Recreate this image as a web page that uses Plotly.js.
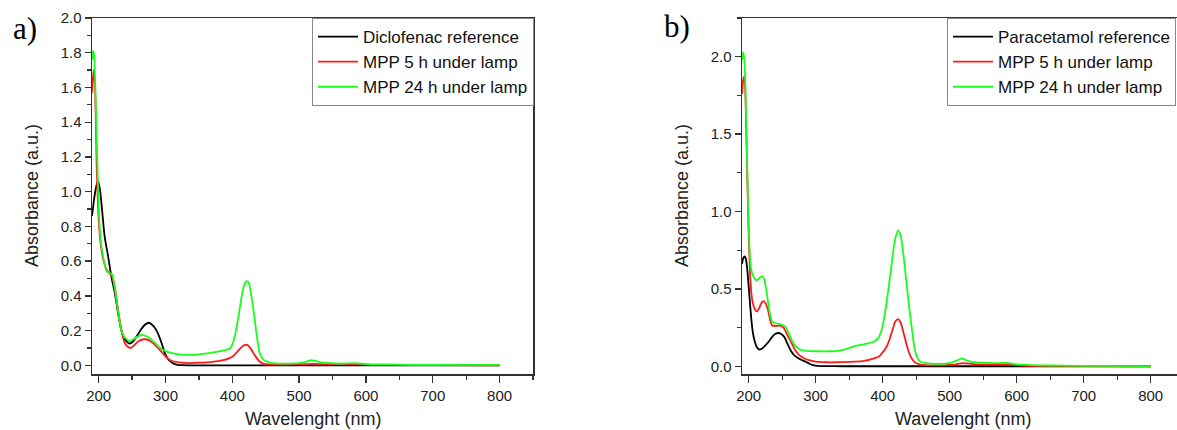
<!DOCTYPE html>
<html>
<head>
<meta charset="utf-8">
<script src="https://cdn.plot.ly/plotly-3.0.1.min.js"></script>
<style>html,body{margin:0;padding:0;background:#fff;}#chart{width:1177px;height:430px;}</style>
</head>
<body>
<div id="chart"></div>
<script>
// ---- Panel a) Diclofenac ----
const seriesNames_a = ["Diclofenac reference", "MPP 5 h under lamp", "MPP 24 h under lamp"];
const wl_a_ref = [190,194,197,199,202,204,209,214,219,224,229,234,239,246,252,259,267,275,282,288,294,299,304,308,313,318,325,340,400,500,600,700,800];
const abs_a_ref = [0.86,0.98,1.04,1.06,1.01,0.94,0.74,0.63,0.51,0.42,0.30,0.20,0.15,0.125,0.14,0.18,0.225,0.245,0.225,0.19,0.13,0.07,0.035,0.02,0.008,0.003,0.001,0,0,0,0,0,0];
const wl_a_5h = [190,192,193,195,197,199,201,204,208,212,216,220,224,229,234,239,244,248,253,260,268,275,282,290,297,303,310,320,335,350,370,385,395,402,408,413,418,422,426,430,435,440,446,455,470,490,510,520,535,550,570,590,610,650,700,800];
const abs_a_5h = [1.57,1.68,1.70,1.55,1.15,0.92,0.78,0.67,0.59,0.55,0.53,0.51,0.45,0.32,0.2,0.13,0.105,0.10,0.115,0.14,0.15,0.145,0.125,0.095,0.065,0.04,0.025,0.017,0.013,0.015,0.02,0.028,0.04,0.055,0.08,0.102,0.116,0.118,0.105,0.08,0.05,0.025,0.01,0.005,0.004,0.005,0.007,0.008,0.007,0.006,0.005,0.006,0.003,0.002,0.001,0];
const wl_a_24h = [190,191.5,193,195,196.5,199,201.5,204,206.5,211,214,217,220,224,229,234,239,246,252,258,264,270,277,284,292,300,310,320,335,350,365,380,390,396,401,405,410,415,419,422,425,429,433,437,441,446,451,460,480,500,510,518,525,535,550,565,585,600,630,670,720,800];
const abs_a_24h = [1.76,1.81,1.79,1.6,1.38,1.03,0.80,0.69,0.63,0.55,0.535,0.53,0.525,0.45,0.31,0.2,0.16,0.14,0.15,0.165,0.175,0.17,0.155,0.13,0.1,0.082,0.07,0.063,0.06,0.063,0.07,0.08,0.088,0.095,0.13,0.19,0.3,0.42,0.475,0.484,0.47,0.39,0.28,0.16,0.07,0.035,0.022,0.013,0.01,0.012,0.02,0.03,0.025,0.015,0.012,0.01,0.012,0.007,0.005,0.003,0.002,0.002];

// ---- Panel b) Paracetamol ----
const seriesNames_b = ["Paracetamol reference", "MPP 5 h under lamp", "MPP 24 h under lamp"];
const wl_b_ref = [190,192,194,196,198,201.5,204,206.5,209,212,216,220,225,230,236,240,244,248,253,258,263,268,273,278,284,290,296,303,315,340,400,500,600,700,800];
const abs_b_ref = [0.66,0.70,0.71,0.69,0.62,0.43,0.3,0.21,0.16,0.125,0.108,0.115,0.135,0.16,0.195,0.21,0.215,0.21,0.19,0.145,0.1,0.07,0.055,0.042,0.032,0.018,0.008,0.003,0.001,0,0,0,0,0,0];
const wl_b_5h = [190,191.5,193,194.5,196,198,200,202,204,206,209,212,215,218,220,223,226,229,232,235,240,246,252,258,264,270,276,283,290,300,315,330,350,370,386,395,400,405,410,415,419,423,427,432,437,442,447,455,470,490,505,520,535,550,570,590,610,650,700,800];
const abs_b_5h = [1.76,1.84,1.87,1.82,1.6,1.2,0.85,0.6,0.47,0.41,0.37,0.355,0.37,0.40,0.415,0.42,0.4,0.36,0.3,0.265,0.26,0.262,0.25,0.2,0.15,0.1,0.07,0.05,0.04,0.03,0.026,0.026,0.028,0.033,0.05,0.065,0.09,0.12,0.17,0.24,0.29,0.305,0.28,0.2,0.12,0.06,0.03,0.012,0.006,0.006,0.01,0.02,0.014,0.012,0.012,0.011,0.005,0.002,0.001,0];
const wl_b_24h = [190,191.5,193,194.5,196,198,200,202,204,207,211,214,217,220,223,226,229,232,235,240,249,255,259,264,269,274,279,286,293,305,320,333,345,358,372,386,393,398,403,408,413,418,423,427,431,435,439,443,447,451,456,465,480,500,510,518,527,540,555,570,585,600,630,670,720,800];
const abs_b_24h = [1.98,2.03,2.0,1.9,1.65,1.25,0.9,0.7,0.62,0.58,0.556,0.56,0.575,0.58,0.565,0.5,0.41,0.33,0.29,0.278,0.27,0.255,0.22,0.17,0.135,0.115,0.105,0.1,0.098,0.097,0.097,0.1,0.11,0.13,0.142,0.157,0.18,0.23,0.33,0.48,0.65,0.81,0.88,0.84,0.72,0.56,0.4,0.26,0.13,0.06,0.03,0.02,0.015,0.02,0.035,0.05,0.035,0.025,0.023,0.02,0.022,0.012,0.006,0.004,0.002,0.001];

const colors = ["#000000", "#ff1a1a", "#1aff1a"];
const W = 1177, H = 430;
const px = v => v / W;
const py = v => 1 - v / H;

function tr(x, y, name, color, xa, ya, lg) {
  return {x: x, y: y, name: name, type: "scatter", mode: "lines",
    line: {color: color, width: 1.8, shape: "spline", smoothing: 0.6},
    xaxis: xa, yaxis: ya, legend: lg, hoverinfo: "x+y"};
}

const data = [
  tr(wl_a_ref, abs_a_ref, seriesNames_a[0], colors[0], "x", "y", "legend"),
  tr(wl_a_5h, abs_a_5h, seriesNames_a[1], colors[1], "x", "y", "legend"),
  tr(wl_a_24h, abs_a_24h, seriesNames_a[2], colors[2], "x", "y", "legend"),
  tr(wl_b_ref, abs_b_ref, seriesNames_b[0], colors[0], "x2", "y2", "legend2"),
  tr(wl_b_5h, abs_b_5h, seriesNames_b[1], colors[1], "x2", "y2", "legend2"),
  tr(wl_b_24h, abs_b_24h, seriesNames_b[2], colors[2], "x2", "y2", "legend2")
];

const tickFont = {family: "Arial, 'Liberation Sans', sans-serif", size: 15, color: "#222"};
const axColor = "#333";

function xAxis(domain, range, anchor) {
  return {domain: domain, range: range, anchor: anchor, showgrid: false, zeroline: false,
    showline: true, linecolor: axColor, linewidth: 1.5, mirror: true,
    ticks: "outside", ticklen: 7, tickwidth: 1.3, tickcolor: axColor,
    tick0: 0, dtick: 100, tickfont: tickFont,
    minor: {dtick: 50, ticks: "outside", ticklen: 4, tickwidth: 1.3, tickcolor: axColor, showgrid: false}};
}
function yAxis(domain, range, dtick, anchor, mirror) {
  return {domain: domain, range: range, anchor: anchor, showgrid: false, zeroline: false,
    showline: true, linecolor: axColor, linewidth: 1.5, mirror: mirror,
    ticks: "outside", ticklen: 6, tickwidth: 1.3, tickcolor: axColor,
    tick0: 0, dtick: dtick, tickformat: ".1f", tickfont: tickFont,
    minor: {dtick: dtick / 2, ticks: "outside", ticklen: 4, tickwidth: 1.3, tickcolor: axColor, showgrid: false}};
}

const yDom = [py(374), py(18)];
const legFont = {family: "Arial, 'Liberation Sans', sans-serif", size: 17, color: "#111"};
const titleFont = {family: "Arial, 'Liberation Sans', sans-serif", size: 18, color: "#222"};
const labelFont = {family: "'Liberation Serif', 'Times New Roman', serif", size: 31, color: "#000"};

const layout = {
  width: W, height: H,
  margin: {l: 0, r: 0, t: 0, b: 0, autoexpand: false},
  paper_bgcolor: "#fff", plot_bgcolor: "#fff",
  showlegend: true,
  xaxis: xAxis([px(92), px(533)], [190, 850], "y"),
  yaxis: yAxis(yDom, [-0.05, 2.0], 0.2, "x", true),
  xaxis2: xAxis([px(742), 1], [190, 839.25], "y2"),
  yaxis2: yAxis(yDom, [-0.05, 2.25], 0.5, "x2", false),
  legend: {x: px(534), xanchor: "right", y: py(18), yanchor: "top", bgcolor: "#fff",
    bordercolor: "#888", borderwidth: 1, font: legFont, itemwidth: 40, tracegroupgap: 0},
  legend2: {x: px(947), xanchor: "left", y: py(18), yanchor: "top", bgcolor: "#fff",
    bordercolor: "#888", borderwidth: 1, font: legFont, itemwidth: 40, tracegroupgap: 0},
  annotations: [
    {text: "Wavelenght (nm)", xref: "paper", yref: "paper", x: px(312.5), y: py(419), xanchor: "center", yanchor: "middle", showarrow: false, font: titleFont},
    {text: "Wavelenght (nm)", xref: "paper", yref: "paper", x: px(963), y: py(419), xanchor: "center", yanchor: "middle", showarrow: false, font: titleFont},
    {text: "Absorbance (a.u.)", xref: "paper", yref: "paper", x: px(32), y: py(196), xanchor: "center", yanchor: "middle", textangle: -90, showarrow: false, font: titleFont},
    {text: "Absorbance (a.u.)", xref: "paper", yref: "paper", x: px(682), y: py(196), xanchor: "center", yanchor: "middle", textangle: -90, showarrow: false, font: titleFont},
    {text: "a)", xref: "paper", yref: "paper", x: px(25), y: py(29), xanchor: "center", yanchor: "middle", showarrow: false, font: labelFont},
    {text: "b)", xref: "paper", yref: "paper", x: px(677), y: py(27), xanchor: "center", yanchor: "middle", showarrow: false, font: labelFont}
  ]
};

Plotly.newPlot("chart", data, layout, {staticPlot: true, displayModeBar: false});
</script>
</body>
</html>
